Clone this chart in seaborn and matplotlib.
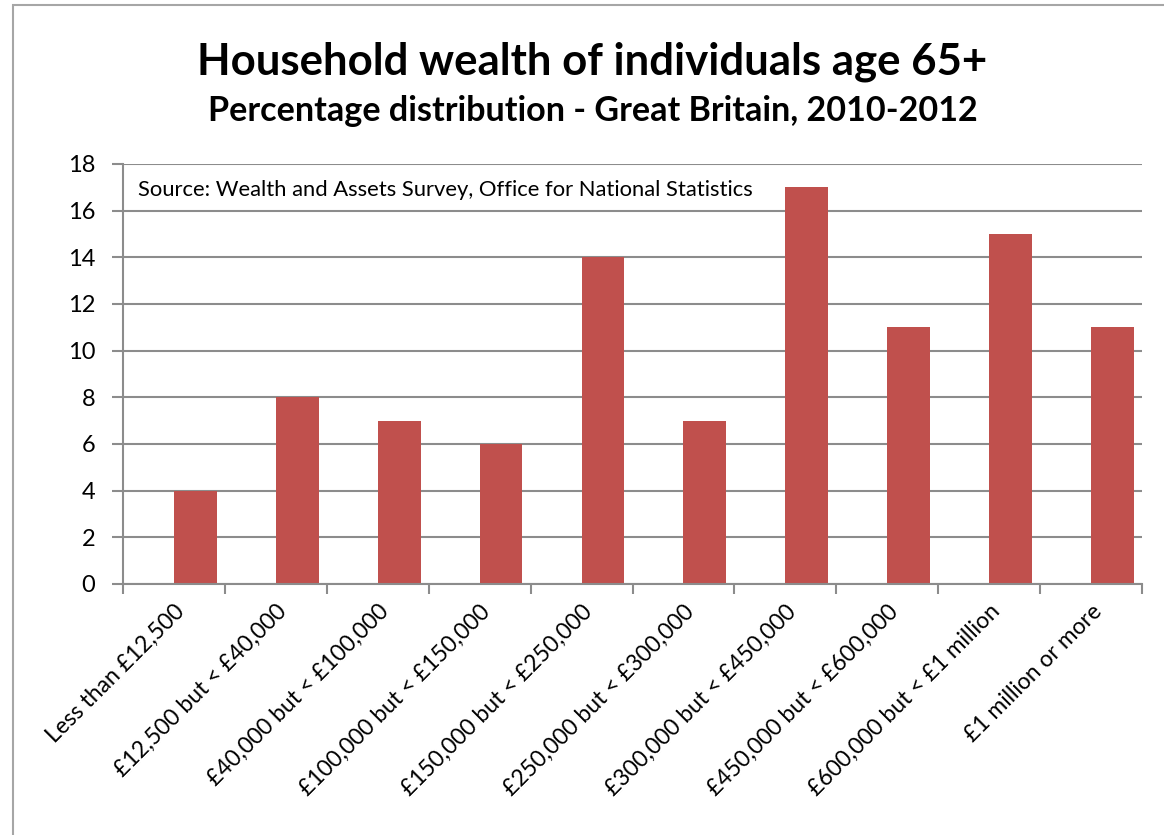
import matplotlib
matplotlib.use("Agg")
import matplotlib.pyplot as plt
import seaborn as sns
import pandas as pd
import numpy as np
from matplotlib.patches import Rectangle

categories = ["Less than £12,500", "£12,500 but < £40,000", "£40,000 but < £100,000",
              "£100,000 but < £150,000", "£150,000 but < £250,000", "£250,000 but < £300,000",
              "£300,000 but < £450,000", "£450,000 but < £600,000", "£600,000 but < £1 million",
              "£1 million or more"]
values = [4, 8, 7, 6, 14, 7, 17, 11, 15, 11]
yticks = [0, 2, 4, 6, 8, 10, 12, 14, 16, 18]

title = "Household wealth of individuals age 65+"
subtitle = "Percentage distribution - Great Britain, 2010-2012"
source = "Source: Wealth and Assets Survey, Office for National Statistics"

sns.set_theme(style="white")
plt.rcParams['font.family'] = ['Lato', 'DejaVu Sans']
plt.rcParams['text.color'] = 'black'
plt.rcParams['xtick.color'] = 'black'
plt.rcParams['ytick.color'] = 'black'
plt.rcParams['xtick.labelcolor'] = 'black'
plt.rcParams['ytick.labelcolor'] = 'black'

# Excel-style clustered layout: an empty first series, the data in the second
df = pd.DataFrame({
    "cat": categories * 2,
    "val": [0] * len(values) + values,
    "series": ["blank"] * len(values) + ["data"] * len(values),
})

fig = plt.figure(figsize=(11.64, 8.35), dpi=100)
ax = fig.add_axes([0.1057, 0.3006, 0.8754, 0.503])
grid_c = "#8c8c8c"
sns.barplot(data=df, x="cat", y="val", hue="series", order=categories,
            hue_order=["blank", "data"], palette=["#ffffff", "#C0504D"],
            width=0.84, dodge=True, ax=ax, legend=False, saturation=1,
            linewidth=0)

ax.set_ylim(0, 18)
ax.set_xlim(-0.5, len(categories) - 0.5)
ax.set_yticks(yticks)
ax.set_yticklabels([str(v) for v in yticks], fontsize=17)
ax.yaxis.grid(True, color=grid_c, linewidth=1.5)
ax.set_axisbelow(True)
ax.set_xlabel("")
ax.set_ylabel("")

ax.set_xticks(range(len(categories)))
ax.set_xticklabels(categories, rotation=45, ha="right", rotation_mode="anchor", fontsize=16.5)
ax.set_xticks(np.arange(-0.5, len(categories)), minor=True)
ax.tick_params(axis="x", which="major", length=0, pad=12)
ax.tick_params(axis="x", which="minor", length=7, width=1.5, color=grid_c, direction="out", bottom=True)
ax.tick_params(axis="y", length=8, width=1.5, color=grid_c, direction="out", left=True, pad=12)

for s in ["top", "right"]:
    ax.spines[s].set_visible(False)
for s in ["left", "bottom"]:
    ax.spines[s].set_color(grid_c)
    ax.spines[s].set_linewidth(1.5)

ax.text(0.015, 0.937, source, transform=ax.transAxes, fontsize=15.8, va="center", ha="left")

fig.text(0.509, 0.926, title, ha="center", va="center", fontsize=31.5, fontweight="bold")
fig.text(0.509, 0.867, subtitle, ha="center", va="center", fontsize=24.6, fontweight="bold")

fig.patches.append(Rectangle((13 / 1164, -0.01), 1.1, 1 - 5 / 835 + 0.01, transform=fig.transFigure,
                             fill=False, edgecolor="#a6a6a6", linewidth=1.5))

fig.savefig("out.png", dpi=100)
